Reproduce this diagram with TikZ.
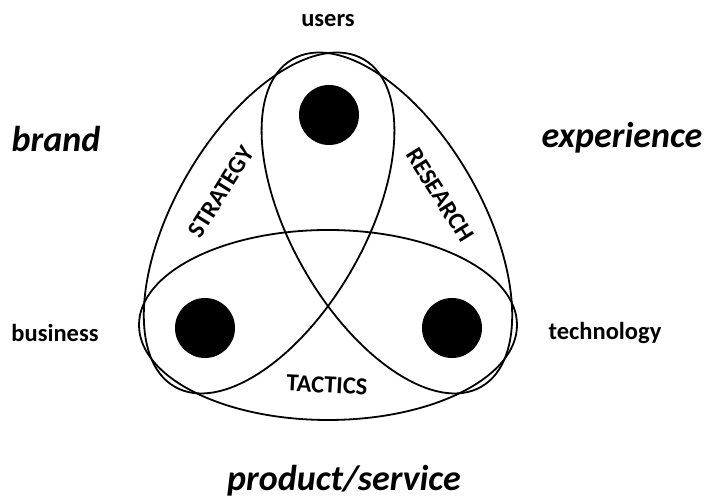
\documentclass[tikz,border=0pt]{standalone}
\usepackage{fontspec}
\setmainfont{Carlito}
\begin{document}
\begin{tikzpicture}[x=1pt,y=1pt,
  loop/.style={line width=1.8pt},
  dot/.style={circle,fill=black,minimum size=60pt,inner sep=0pt},
  corner/.style={font=\fontsize{24.5}{24.5}\selectfont\bfseries},
  realm/.style={font=\fontsize{36}{36}\selectfont\bfseries\itshape},
  phase/.style={font=\fontsize{24.5}{24.5}\selectfont\bfseries}]
\useasboundingbox (0,0) rectangle (710,502);
\coordinate (G) at (328,245);
% three congruent ellipses, turned by 120 degrees about the centre
\draw[loop] (328,177) ellipse [x radius=189, y radius=95];
\draw[loop, rotate around={120:(G)}] (328,177) ellipse [x radius=189, y radius=95];
\draw[loop, rotate around={-120:(G)}] (328,177) ellipse [x radius=189, y radius=95];
% the three poles
\node[dot] (top) at (329,387) {};
\node[dot] (left) at (205,174) {};
\node[dot] (right) at (452,174) {};
% phase labels inside the lenses
\node[phase, rotate=58] (strategy) at (221,310) {STRATEGY};
\node[phase, rotate=-58] (research) at (440,307) {RESEARCH};
\node[phase, rotate=-3] (tactics) at (327,117) {TACTICS};
% labels of the poles
\node[corner, anchor=base] (users) at (328,475) {users};
\node[corner, anchor=base] (business) at (55,160) {business};
\node[corner, anchor=base] (technology) at (605,162) {technology};
% labels of the sides
\node[realm, anchor=base] (brand) at (56,350) {brand};
\node[realm, anchor=base] (experience) at (622,354) {experience};
\node[realm, anchor=base] (product) at (344,11) {product/service};
\end{tikzpicture}
\end{document}
